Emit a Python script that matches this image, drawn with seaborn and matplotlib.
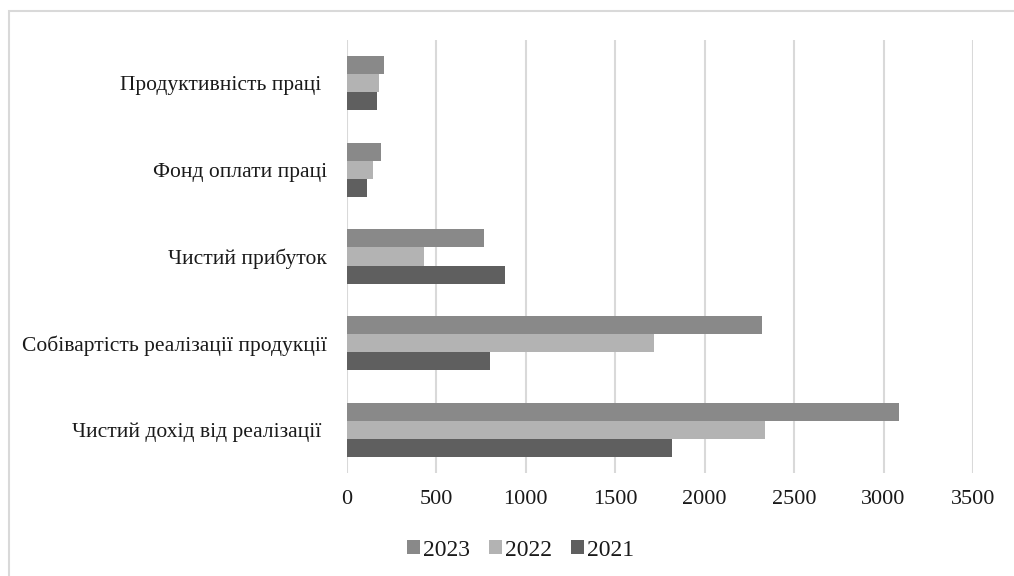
import matplotlib
matplotlib.use("Agg")
import matplotlib.pyplot as plt
from matplotlib.patches import Patch, Rectangle
import pandas as pd
import seaborn as sns

# Indicators (top to bottom) and values per year
categories = [
    "Продуктивність праці ",
    "Фонд оплати праці",
    "Чистий прибуток",
    "Собівартість реалізації продукції",
    "Чистий дохід від реалізації ",
]
years = ["2023", "2022", "2021"]
values_2023 = [207, 191, 767, 2319, 3088]
values_2022 = [181, 143, 430, 1714, 2336]
values_2021 = [167, 111, 885, 797, 1815]
x_ticks = [0, 500, 1000, 1500, 2000, 2500, 3000, 3500]

colors = {"2023": "#898989", "2022": "#b3b3b3", "2021": "#5f5f5f"}

df = pd.DataFrame({
    "indicator": categories * 3,
    "year": ["2023"] * 5 + ["2022"] * 5 + ["2021"] * 5,
    "value": values_2023 + values_2022 + values_2021,
})

sns.set_theme(style="white")
plt.rcParams["font.family"] = ["Liberation Serif", "DejaVu Serif"]

W, H = 1014, 576
fig = plt.figure(figsize=(W / 100, H / 100), dpi=100)
ax = fig.add_axes([347 / W, 1 - 473 / H, (973 - 347) / W, (473 - 40) / H])

sns.barplot(
    data=df, y="indicator", x="value", hue="year",
    hue_order=years, order=categories, palette=colors,
    orient="h", width=0.624, linewidth=0, saturation=1,
    errorbar=None, legend=False, ax=ax,
)

ax.set_xlim(0, 3500)
ax.set_ylim(4.5, -0.5)
ax.set_xticks(x_ticks)
ax.set_xticklabels([str(t) for t in x_ticks])
ax.xaxis.grid(True, color="#d9d9d9", linewidth=1.5)
ax.yaxis.grid(False)
ax.set_axisbelow(True)
for s in ax.spines.values():
    s.set_visible(False)
ax.set_xlabel("")
ax.set_ylabel("")
ax.tick_params(axis="x", length=0, pad=12, labelsize=16, colors="#1a1a1a")
ax.tick_params(axis="y", length=0, pad=14.5, labelsize=15.5, colors="#1a1a1a")

handles = [Patch(facecolor=colors[y], edgecolor="none", label=y) for y in years]
fig.legend(
    handles=handles, loc="center", bbox_to_anchor=(520.5 / W, 1 - 550 / H),
    ncol=3, frameon=False, fontsize=17, handlelength=0.55, handleheight=0.5,
    handletextpad=0.13, columnspacing=0.8, labelcolor="#1a1a1a",
    borderpad=0, borderaxespad=0,
)

# Outer chart border (only top and left edges fall inside the canvas)
fig.patches.append(Rectangle(
    (8.5 / W, -0.1), 1.2, 1.1 - 10.5 / H,
    transform=fig.transFigure, fill=False, edgecolor="#d9d9d9", linewidth=1.5,
))

fig.savefig("out.png", dpi=100, facecolor="white")
